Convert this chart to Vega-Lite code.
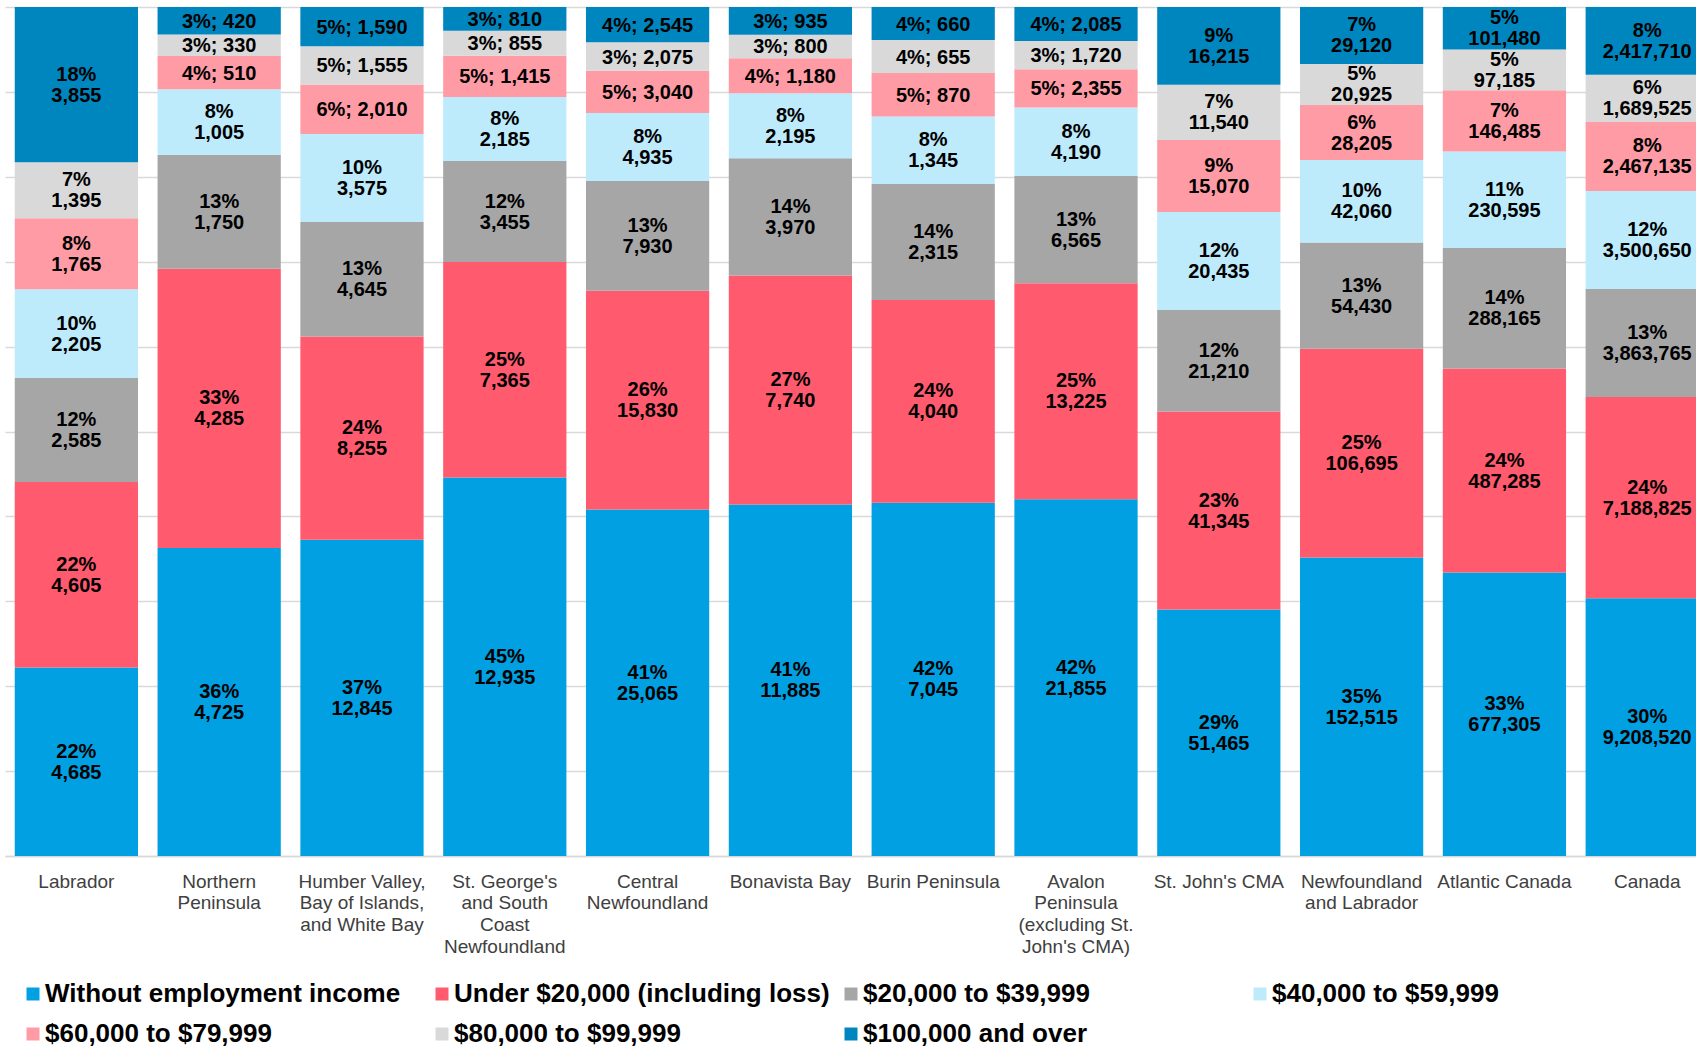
{
  "$schema": "https://vega.github.io/schema/vega-lite/v6.json",
  "width": 1691,
  "height": 849,
  "autosize": {"type": "none"},
  "padding": {"left": 5, "top": 7, "right": 0, "bottom": 194},
  "background": "white",
  "config": {"view": {"stroke": null}, "font": "Liberation Sans"},
  "data": {"values": [
    {"region": "Labrador", "income": "Without employment income", "count": 4685, "pct": 22},
    {"region": "Labrador", "income": "Under $20,000 (including loss)", "count": 4605, "pct": 22},
    {"region": "Labrador", "income": "$20,000 to $39,999", "count": 2585, "pct": 12},
    {"region": "Labrador", "income": "$40,000 to $59,999", "count": 2205, "pct": 10},
    {"region": "Labrador", "income": "$60,000 to $79,999", "count": 1765, "pct": 8},
    {"region": "Labrador", "income": "$80,000 to $99,999", "count": 1395, "pct": 7},
    {"region": "Labrador", "income": "$100,000 and over", "count": 3855, "pct": 18},
    {"region": "Northern Peninsula", "income": "Without employment income", "count": 4725, "pct": 36},
    {"region": "Northern Peninsula", "income": "Under $20,000 (including loss)", "count": 4285, "pct": 33},
    {"region": "Northern Peninsula", "income": "$20,000 to $39,999", "count": 1750, "pct": 13},
    {"region": "Northern Peninsula", "income": "$40,000 to $59,999", "count": 1005, "pct": 8},
    {"region": "Northern Peninsula", "income": "$60,000 to $79,999", "count": 510, "pct": 4},
    {"region": "Northern Peninsula", "income": "$80,000 to $99,999", "count": 330, "pct": 3},
    {"region": "Northern Peninsula", "income": "$100,000 and over", "count": 420, "pct": 3},
    {"region": "Humber Valley, Bay of Islands, and White Bay", "income": "Without employment income", "count": 12845, "pct": 37},
    {"region": "Humber Valley, Bay of Islands, and White Bay", "income": "Under $20,000 (including loss)", "count": 8255, "pct": 24},
    {"region": "Humber Valley, Bay of Islands, and White Bay", "income": "$20,000 to $39,999", "count": 4645, "pct": 13},
    {"region": "Humber Valley, Bay of Islands, and White Bay", "income": "$40,000 to $59,999", "count": 3575, "pct": 10},
    {"region": "Humber Valley, Bay of Islands, and White Bay", "income": "$60,000 to $79,999", "count": 2010, "pct": 6},
    {"region": "Humber Valley, Bay of Islands, and White Bay", "income": "$80,000 to $99,999", "count": 1555, "pct": 5},
    {"region": "Humber Valley, Bay of Islands, and White Bay", "income": "$100,000 and over", "count": 1590, "pct": 5},
    {"region": "St. George's and South Coast Newfoundland", "income": "Without employment income", "count": 12935, "pct": 45},
    {"region": "St. George's and South Coast Newfoundland", "income": "Under $20,000 (including loss)", "count": 7365, "pct": 25},
    {"region": "St. George's and South Coast Newfoundland", "income": "$20,000 to $39,999", "count": 3455, "pct": 12},
    {"region": "St. George's and South Coast Newfoundland", "income": "$40,000 to $59,999", "count": 2185, "pct": 8},
    {"region": "St. George's and South Coast Newfoundland", "income": "$60,000 to $79,999", "count": 1415, "pct": 5},
    {"region": "St. George's and South Coast Newfoundland", "income": "$80,000 to $99,999", "count": 855, "pct": 3},
    {"region": "St. George's and South Coast Newfoundland", "income": "$100,000 and over", "count": 810, "pct": 3},
    {"region": "Central Newfoundland", "income": "Without employment income", "count": 25065, "pct": 41},
    {"region": "Central Newfoundland", "income": "Under $20,000 (including loss)", "count": 15830, "pct": 26},
    {"region": "Central Newfoundland", "income": "$20,000 to $39,999", "count": 7930, "pct": 13},
    {"region": "Central Newfoundland", "income": "$40,000 to $59,999", "count": 4935, "pct": 8},
    {"region": "Central Newfoundland", "income": "$60,000 to $79,999", "count": 3040, "pct": 5},
    {"region": "Central Newfoundland", "income": "$80,000 to $99,999", "count": 2075, "pct": 3},
    {"region": "Central Newfoundland", "income": "$100,000 and over", "count": 2545, "pct": 4},
    {"region": "Bonavista Bay", "income": "Without employment income", "count": 11885, "pct": 41},
    {"region": "Bonavista Bay", "income": "Under $20,000 (including loss)", "count": 7740, "pct": 27},
    {"region": "Bonavista Bay", "income": "$20,000 to $39,999", "count": 3970, "pct": 14},
    {"region": "Bonavista Bay", "income": "$40,000 to $59,999", "count": 2195, "pct": 8},
    {"region": "Bonavista Bay", "income": "$60,000 to $79,999", "count": 1180, "pct": 4},
    {"region": "Bonavista Bay", "income": "$80,000 to $99,999", "count": 800, "pct": 3},
    {"region": "Bonavista Bay", "income": "$100,000 and over", "count": 935, "pct": 3},
    {"region": "Burin Peninsula", "income": "Without employment income", "count": 7045, "pct": 42},
    {"region": "Burin Peninsula", "income": "Under $20,000 (including loss)", "count": 4040, "pct": 24},
    {"region": "Burin Peninsula", "income": "$20,000 to $39,999", "count": 2315, "pct": 14},
    {"region": "Burin Peninsula", "income": "$40,000 to $59,999", "count": 1345, "pct": 8},
    {"region": "Burin Peninsula", "income": "$60,000 to $79,999", "count": 870, "pct": 5},
    {"region": "Burin Peninsula", "income": "$80,000 to $99,999", "count": 655, "pct": 4},
    {"region": "Burin Peninsula", "income": "$100,000 and over", "count": 660, "pct": 4},
    {"region": "Avalon Peninsula (excluding St. John's CMA)", "income": "Without employment income", "count": 21855, "pct": 42},
    {"region": "Avalon Peninsula (excluding St. John's CMA)", "income": "Under $20,000 (including loss)", "count": 13225, "pct": 25},
    {"region": "Avalon Peninsula (excluding St. John's CMA)", "income": "$20,000 to $39,999", "count": 6565, "pct": 13},
    {"region": "Avalon Peninsula (excluding St. John's CMA)", "income": "$40,000 to $59,999", "count": 4190, "pct": 8},
    {"region": "Avalon Peninsula (excluding St. John's CMA)", "income": "$60,000 to $79,999", "count": 2355, "pct": 5},
    {"region": "Avalon Peninsula (excluding St. John's CMA)", "income": "$80,000 to $99,999", "count": 1720, "pct": 3},
    {"region": "Avalon Peninsula (excluding St. John's CMA)", "income": "$100,000 and over", "count": 2085, "pct": 4},
    {"region": "St. John's CMA", "income": "Without employment income", "count": 51465, "pct": 29},
    {"region": "St. John's CMA", "income": "Under $20,000 (including loss)", "count": 41345, "pct": 23},
    {"region": "St. John's CMA", "income": "$20,000 to $39,999", "count": 21210, "pct": 12},
    {"region": "St. John's CMA", "income": "$40,000 to $59,999", "count": 20435, "pct": 12},
    {"region": "St. John's CMA", "income": "$60,000 to $79,999", "count": 15070, "pct": 9},
    {"region": "St. John's CMA", "income": "$80,000 to $99,999", "count": 11540, "pct": 7},
    {"region": "St. John's CMA", "income": "$100,000 and over", "count": 16215, "pct": 9},
    {"region": "Newfoundland and Labrador", "income": "Without employment income", "count": 152515, "pct": 35},
    {"region": "Newfoundland and Labrador", "income": "Under $20,000 (including loss)", "count": 106695, "pct": 25},
    {"region": "Newfoundland and Labrador", "income": "$20,000 to $39,999", "count": 54430, "pct": 13},
    {"region": "Newfoundland and Labrador", "income": "$40,000 to $59,999", "count": 42060, "pct": 10},
    {"region": "Newfoundland and Labrador", "income": "$60,000 to $79,999", "count": 28205, "pct": 6},
    {"region": "Newfoundland and Labrador", "income": "$80,000 to $99,999", "count": 20925, "pct": 5},
    {"region": "Newfoundland and Labrador", "income": "$100,000 and over", "count": 29120, "pct": 7},
    {"region": "Atlantic Canada", "income": "Without employment income", "count": 677305, "pct": 33},
    {"region": "Atlantic Canada", "income": "Under $20,000 (including loss)", "count": 487285, "pct": 24},
    {"region": "Atlantic Canada", "income": "$20,000 to $39,999", "count": 288165, "pct": 14},
    {"region": "Atlantic Canada", "income": "$40,000 to $59,999", "count": 230595, "pct": 11},
    {"region": "Atlantic Canada", "income": "$60,000 to $79,999", "count": 146485, "pct": 7},
    {"region": "Atlantic Canada", "income": "$80,000 to $99,999", "count": 97185, "pct": 5},
    {"region": "Atlantic Canada", "income": "$100,000 and over", "count": 101480, "pct": 5},
    {"region": "Canada", "income": "Without employment income", "count": 9208520, "pct": 30},
    {"region": "Canada", "income": "Under $20,000 (including loss)", "count": 7188825, "pct": 24},
    {"region": "Canada", "income": "$20,000 to $39,999", "count": 3863765, "pct": 13},
    {"region": "Canada", "income": "$40,000 to $59,999", "count": 3500650, "pct": 12},
    {"region": "Canada", "income": "$60,000 to $79,999", "count": 2467135, "pct": 8},
    {"region": "Canada", "income": "$80,000 to $99,999", "count": 1689525, "pct": 6},
    {"region": "Canada", "income": "$100,000 and over", "count": 2417710, "pct": 8}
  ]},
  "transform": [
    {"calculate": "indexof(['Without employment income','Under $20,000 (including loss)','$20,000 to $39,999','$40,000 to $59,999','$60,000 to $79,999','$80,000 to $99,999','$100,000 and over'], datum.income)", "as": "ord"},
    {"stack": "count", "groupby": ["region"], "sort": [{"field": "ord", "order": "ascending"}], "offset": "normalize", "as": ["y0", "y1"]},
    {"calculate": "(datum.y0 + datum.y1) / 2", "as": "ymid"},
    {"calculate": "datum.pct <= 6 && datum.count < 10000", "as": "oneline"},
    {"calculate": "datum.oneline ? (datum.pct + '%; ' + format(datum.count, ',')) : [datum.pct + '%', format(datum.count, ',')]", "as": "label"}
  ],
  "encoding": {
    "x": {
      "field": "region",
      "type": "nominal",
      "sort": ["Labrador", "Northern Peninsula", "Humber Valley, Bay of Islands, and White Bay", "St. George's and South Coast Newfoundland", "Central Newfoundland", "Bonavista Bay", "Burin Peninsula", "Avalon Peninsula (excluding St. John's CMA)", "St. John's CMA", "Newfoundland and Labrador", "Atlantic Canada", "Canada"],
      "scale": {"range": [0, 1713.6], "paddingInner": 0.137, "paddingOuter": 0.0683},
      "axis": {
        "title": null,
        "labelAngle": 0,
        "ticks": false,
        "domainColor": "#d9d9d9",
        "domainWidth": 1.5,
        "labelColor": "#404040",
        "labelFont": "Liberation Sans",
        "labelFontSize": 19,
        "labelLineHeight": 21.7,
        "labelPadding": 16,
        "labelOverlap": false,
        "labelLimit": 300,
        "labelExpr": "datum.value == 'Northern Peninsula' ? ['Northern', 'Peninsula'] : datum.value == 'Humber Valley, Bay of Islands, and White Bay' ? ['Humber Valley,', 'Bay of Islands,', 'and White Bay'] : datum.value == \"St. George's and South Coast Newfoundland\" ? [\"St. George's\", 'and South', 'Coast', 'Newfoundland'] : datum.value == 'Central Newfoundland' ? ['Central', 'Newfoundland'] : datum.value == \"Avalon Peninsula (excluding St. John's CMA)\" ? ['Avalon', 'Peninsula', '(excluding St.', \"John's CMA)\"] : datum.value == 'Newfoundland and Labrador' ? ['Newfoundland', 'and Labrador'] : datum.value"
      }
    }
  },
  "layer": [
    {
      "mark": {"type": "bar"},
      "encoding": {
        "y": {
          "field": "y0",
          "type": "quantitative",
          "scale": {"domain": [0, 1], "nice": false},
          "axis": {
            "title": null,
            "labels": false,
            "ticks": false,
            "domain": false,
            "grid": true,
            "gridColor": "#d9d9d9",
            "gridWidth": 1.3,
            "values": [0, 0.1, 0.2, 0.3, 0.4, 0.5, 0.6, 0.7, 0.8, 0.9, 1]
          }
        },
        "y2": {"field": "y1"},
        "color": {
          "field": "income",
          "type": "nominal",
          "scale": {
            "domain": ["Without employment income", "Under $20,000 (including loss)", "$20,000 to $39,999", "$40,000 to $59,999", "$60,000 to $79,999", "$80,000 to $99,999", "$100,000 and over"],
            "range": ["#00A0E3", "#FF5A6E", "#A6A6A6", "#BDEBFC", "#FF9BA5", "#D9D9D9", "#0086BE"]
          },
          "legend": {
            "orient": "none",
            "legendX": 15,
            "legendY": 974,
            "direction": "horizontal",
            "columns": 4,
            "title": null,
            "symbolType": "square",
            "symbolSize": 169,
            "symbolStrokeWidth": 0,
            "labelFont": "Liberation Sans",
            "labelFontSize": 26,
            "labelFontWeight": "bold",
            "labelColor": "black",
            "labelOffset": -1,
            "labelLimit": 600,
            "columnPadding": 8,
            "rowPadding": 14,
            "gridAlign": "all"
          }
        }
      }
    },
    {
      "transform": [{"filter": "datum.oneline"}],
      "mark": {"type": "text", "font": "Liberation Sans", "fontWeight": "bold", "fontSize": 20, "color": "black", "baseline": "middle", "align": "center", "dy": 1},
      "encoding": {
        "y": {"field": "ymid", "type": "quantitative"},
        "text": {"field": "label", "type": "nominal"}
      }
    },
    {
      "transform": [{"filter": "!datum.oneline"}],
      "mark": {"type": "text", "font": "Liberation Sans", "fontWeight": "bold", "fontSize": 20, "lineHeight": 21, "color": "black", "baseline": "middle", "align": "center", "dy": -10},
      "encoding": {
        "y": {"field": "ymid", "type": "quantitative"},
        "text": {"field": "label", "type": "nominal"}
      }
    }
  ]
}
